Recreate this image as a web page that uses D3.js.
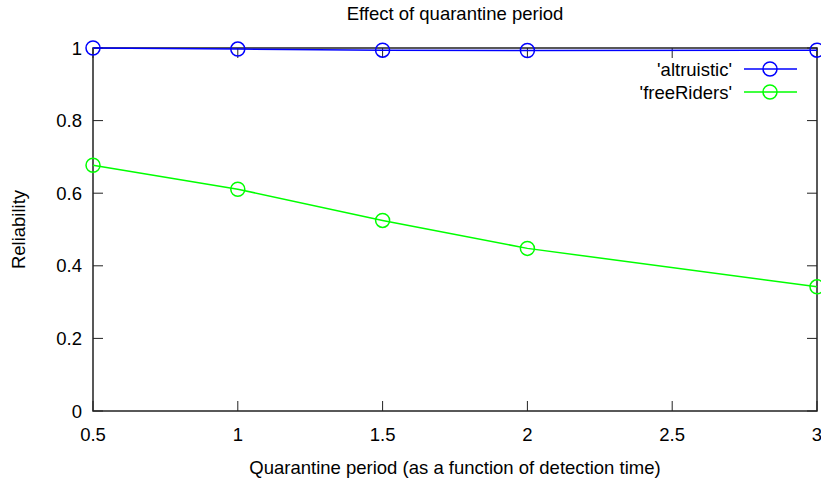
<!DOCTYPE html>
<html><head><meta charset="utf-8">
<script src="https://cdn.jsdelivr.net/npm/d3@7"></script>
<style>body{margin:0;background:#fff;} text{font-family:"Liberation Sans",Arial,sans-serif;fill:#000;}</style>
</head><body>
<svg id="c" width="821" height="484"></svg>
<script>
const xValues = [0.5, 1, 1.5, 2, 3];
const altruistic = [1.0, 0.997, 0.994, 0.993, 0.994];
const freeRiders = [0.677, 0.611, 0.525, 0.448, 0.342];
const seriesNames = ["'altruistic'", "'freeRiders'"];
const seriesColors = ["#0000ff", "#00ff00"];
const xTicks = [0.5, 1, 1.5, 2, 2.5, 3];
const yTicks = [0, 0.2, 0.4, 0.6, 0.8, 1];
const titleText = "Effect of quarantine period";
const xLabel = "Quarantine period (as a function of detection time)";
const yLabel = "Reliability";

const svg = d3.select("#c");
const L = 93, R = 817, T = 48, B = 411;
const x = d3.scaleLinear().domain([0.5, 3]).range([L, R]);
const y = d3.scaleLinear().domain([0, 1]).range([B, T]);
const fs = 18.5;

// ticks (inward, mirrored)
const axisG = svg.append("g").attr("stroke", "#222").attr("stroke-width", 1);
xTicks.forEach(t => {
  axisG.append("line").attr("x1", x(t)).attr("x2", x(t)).attr("y1", B).attr("y2", B - 10);
  axisG.append("line").attr("x1", x(t)).attr("x2", x(t)).attr("y1", T).attr("y2", T + 10);
  svg.append("text").attr("x", x(t)).attr("y", B + 30).attr("text-anchor", "middle").style("font-size", fs + "px").text(d3.format("")(t));
});
yTicks.forEach(t => {
  axisG.append("line").attr("x1", L).attr("x2", L + 10).attr("y1", y(t)).attr("y2", y(t));
  axisG.append("line").attr("x1", R).attr("x2", R - 10).attr("y1", y(t)).attr("y2", y(t));
  svg.append("text").attr("x", L - 11).attr("y", y(t) + 6.5).attr("text-anchor", "end").style("font-size", fs + "px").text(d3.format("")(t));
});
svg.append("rect").attr("x", L).attr("y", T).attr("width", R - L).attr("height", B - T)
  .attr("fill", "none").attr("stroke", "#222").attr("stroke-width", 1.5);

// titles
svg.append("text").attr("x", (L + R) / 2).attr("y", 20).attr("text-anchor", "middle").style("font-size", fs + "px").text(titleText);
svg.append("text").attr("x", (L + R) / 2).attr("y", 474).attr("text-anchor", "middle").style("font-size", fs + "px").text(xLabel);
svg.append("text").attr("transform", `translate(25,${(T + B) / 2}) rotate(-90)`).attr("text-anchor", "middle").style("font-size", fs + "px").text(yLabel);

// series
const all = [altruistic, freeRiders];
const line = d3.line().x((d, i) => x(xValues[i])).y(d => y(d));
all.forEach((vals, k) => {
  const g = svg.append("g");
  g.append("path").datum(vals).attr("d", line).attr("fill", "none").attr("stroke", seriesColors[k]).attr("stroke-width", 1.5);
  g.selectAll("circle").data(vals).join("circle")
    .attr("cx", (d, i) => x(xValues[i])).attr("cy", d => y(d)).attr("r", 7)
    .attr("fill", "none").attr("stroke", seriesColors[k]).attr("stroke-width", 1.5);
});

// legend
seriesNames.forEach((n, k) => {
  const ly = 69 + k * 23;
  svg.append("text").attr("x", 732).attr("y", ly + 6.5).attr("text-anchor", "end").style("font-size", fs + "px").text(n);
  svg.append("line").attr("x1", 744).attr("x2", 797).attr("y1", ly).attr("y2", ly).attr("stroke", seriesColors[k]).attr("stroke-width", 1.5);
  svg.append("circle").attr("cx", 770).attr("cy", ly).attr("r", 7).attr("fill", "none").attr("stroke", seriesColors[k]).attr("stroke-width", 1.5);
});
</script>
</body></html>
